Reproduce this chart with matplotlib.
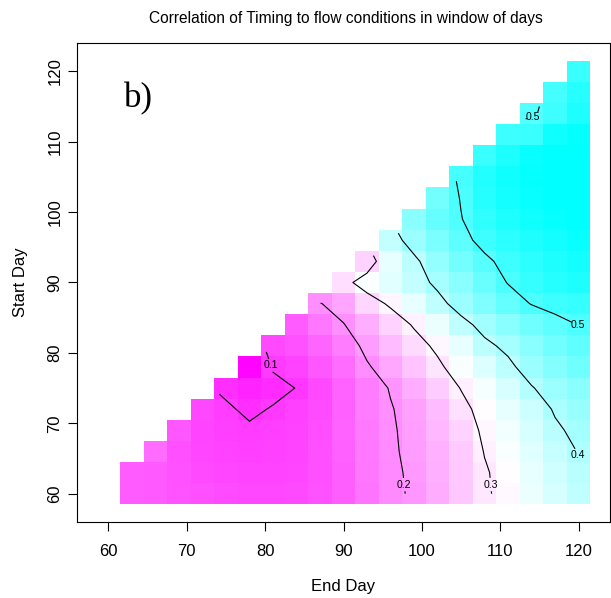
import numpy as np
import matplotlib
matplotlib.use("Agg")
import matplotlib.pyplot as plt
from matplotlib.colors import LinearSegmentedColormap, Normalize

# ---- data -------------------------------------------------------------
end_days = [60, 63, 66, 69, 72, 75, 78, 81, 84, 87, 90, 93, 96, 99, 102, 105, 108, 111, 114, 117, 120]
start_days = [60, 63, 66, 69, 72, 75, 78, 81, 84, 87, 90, 93, 96, 99, 102, 105, 108, 111, 114, 117, 120]

# correlation per start day, for end days running up to 120 (right aligned)
corr_start_60 = [0.14, 0.138, 0.132, 0.128, 0.124, 0.12, 0.12, 0.122, 0.13, 0.145, 0.168, 0.19, 0.206, 0.228, 0.258, 0.294, 0.314, 0.34, 0.362, 0.385]
corr_start_63 = [0.14, 0.138, 0.13, 0.122, 0.118, 0.115, 0.115, 0.118, 0.128, 0.145, 0.17, 0.191, 0.208, 0.232, 0.26, 0.295, 0.318, 0.345, 0.368, 0.392]
corr_start_66 = [0.16, 0.128, 0.118, 0.112, 0.108, 0.11, 0.115, 0.127, 0.147, 0.172, 0.193, 0.212, 0.236, 0.262, 0.302, 0.325, 0.352, 0.378, 0.402]
corr_start_69 = [0.135, 0.115, 0.108, 0.106, 0.108, 0.113, 0.126, 0.148, 0.174, 0.194, 0.215, 0.242, 0.27, 0.31, 0.335, 0.362, 0.392, 0.412]
corr_start_72 = [0.12, 0.106, 0.092, 0.103, 0.11, 0.124, 0.147, 0.175, 0.197, 0.217, 0.245, 0.285, 0.318, 0.345, 0.372, 0.405, 0.425]
corr_start_75 = [0.092, 0.08, 0.088, 0.101, 0.122, 0.148, 0.176, 0.203, 0.23, 0.265, 0.302, 0.33, 0.36, 0.397, 0.42, 0.44]
corr_start_78 = [0.045, 0.104, 0.112, 0.135, 0.16, 0.195, 0.222, 0.255, 0.29, 0.325, 0.355, 0.39, 0.42, 0.445, 0.465]
corr_start_81 = [0.122, 0.13, 0.15, 0.175, 0.212, 0.245, 0.28, 0.31, 0.345, 0.39, 0.41, 0.44, 0.462, 0.482]
corr_start_84 = [0.14, 0.17, 0.198, 0.23, 0.27, 0.305, 0.34, 0.385, 0.415, 0.44, 0.465, 0.485, 0.501]
corr_start_87 = [0.198, 0.22, 0.275, 0.308, 0.345, 0.385, 0.42, 0.45, 0.478, 0.502, 0.515, 0.525]
corr_start_90 = [0.284, 0.324, 0.35, 0.38, 0.41, 0.44, 0.472, 0.502, 0.525, 0.54, 0.55]
corr_start_93 = [0.27, 0.345, 0.39, 0.43, 0.46, 0.49, 0.515, 0.535, 0.55, 0.56]
corr_start_96 = [0.38, 0.42, 0.455, 0.485, 0.515, 0.535, 0.55, 0.56, 0.57]
corr_start_99 = [0.44, 0.475, 0.498, 0.53, 0.55, 0.565, 0.572, 0.578]
corr_start_102 = [0.46, 0.503, 0.54, 0.56, 0.57, 0.578, 0.58]
corr_start_105 = [0.51, 0.545, 0.565, 0.575, 0.58, 0.58]
corr_start_108 = [0.52, 0.55, 0.57, 0.578, 0.58]
corr_start_111 = [0.515, 0.52, 0.565, 0.575]
corr_start_114 = [0.495, 0.515, 0.55]
corr_start_117 = [0.51, 0.54]
corr_start_120 = [0.52]

contour_levels = [0.1, 0.2, 0.3, 0.4, 0.5]
x_ticks = [60, 70, 80, 90, 100, 110, 120]
y_ticks = [60, 70, 80, 90, 100, 110, 120]

title = "Correlation of Timing to flow conditions in window of days"
x_label = "End Day"
y_label = "Start Day"
panel_label = "b)"

# ---- assemble grid ------------------------------------------------------
rows = [corr_start_60, corr_start_63, corr_start_66, corr_start_69, corr_start_72,
        corr_start_75, corr_start_78, corr_start_81, corr_start_84, corr_start_87,
        corr_start_90, corr_start_93, corr_start_96, corr_start_99, corr_start_102,
        corr_start_105, corr_start_108, corr_start_111, corr_start_114, corr_start_117,
        corr_start_120]
Z = np.full((len(start_days), len(end_days)), np.nan)
for j, r in enumerate(rows):
    Z[j, len(end_days) - len(r):] = r
Zm = np.ma.masked_invalid(Z)

xc = np.array(end_days, dtype=float)
yc = np.array(start_days, dtype=float)
dx = xc[1] - xc[0]
dy = yc[1] - yc[0]
x_edges = np.concatenate([xc - dx / 2, [xc[-1] + dx / 2]])
y_edges = np.concatenate([yc - dy / 2, [yc[-1] + dy / 2]])

# ---- style ----------------------------------------------------------------
plt.rcParams['font.family'] = ['Liberation Sans', 'DejaVu Sans']

vmin, vmid, vmax = 0.04, 0.32, 0.58
cmap = LinearSegmentedColormap.from_list(
    "mwc", [(0.0, "#FF00FF"), ((vmid - vmin) / (vmax - vmin), "#FFFFFF"), (1.0, "#00FFFF")])
norm = Normalize(vmin=vmin, vmax=vmax)

W, H = 611, 598
fig = plt.figure(figsize=(W / 100, H / 100), dpi=100)
L, R, T, B = 77, 610, 43, 522
ax = fig.add_axes([L / W, 1 - B / H, (R - L) / W, (B - T) / H])

ax.pcolormesh(x_edges, y_edges, Zm, cmap=cmap, norm=norm, shading='flat',
              antialiased=False, edgecolors='none')

cs = ax.contour(xc, yc, Zm, levels=contour_levels, colors='black',
                linewidths=0.8, corner_mask=True)
label_spots = [(80.9, 78.3), (97.8, 61.3), (108.8, 61.3), (119.7, 65.4),
               (119.8, 83.7), (114.4, 113.3)]
texts = ax.clabel(cs, manual=label_spots, inline=True, inline_spacing=0,
                  fontsize=7.6, fmt='%.1f', colors='black')
for t in texts:
    t.set_rotation(0)

xr = x_edges[-1] - x_edges[0]
yr = y_edges[-1] - y_edges[0]
ax.set_xlim(x_edges[0] - 0.04 * xr, x_edges[-1] + 0.04 * xr)
ax.set_ylim(y_edges[0] - 0.04 * yr, y_edges[-1] + 0.04 * yr)

ax.set_xticks(x_ticks)
ax.set_yticks(y_ticks)
ax.tick_params(axis='both', direction='out', length=6.5, width=0.8, labelsize=12,
               color='black')
ax.tick_params(axis='x', pad=9)
ax.tick_params(axis='y', pad=4, labelrotation=90)
for lab in ax.get_yticklabels():
    lab.set_va('center')
for s in ax.spines.values():
    s.set_linewidth(0.8)
    s.set_color('black')

ax.set_xlabel(x_label, fontsize=12)
ax.xaxis.set_label_coords(0.5, -(586 - B) / (B - T))
ax.xaxis.label.set_va('center')
ax.set_ylabel(y_label, fontsize=12)
ax.yaxis.set_label_coords(-(L - 21) / (R - L), 0.5)
ax.yaxis.label.set_va('center')

fig.text(346 / W, 1 - 18 / H, title, ha='center', va='center', fontsize=11.2)
ax.text((124 - L) / (R - L), (B - 107) / (B - T), panel_label, transform=ax.transAxes,
        ha='left', va='baseline', fontsize=25, family=['Liberation Serif', 'DejaVu Serif'])

fig.savefig("out.png", dpi=100)
